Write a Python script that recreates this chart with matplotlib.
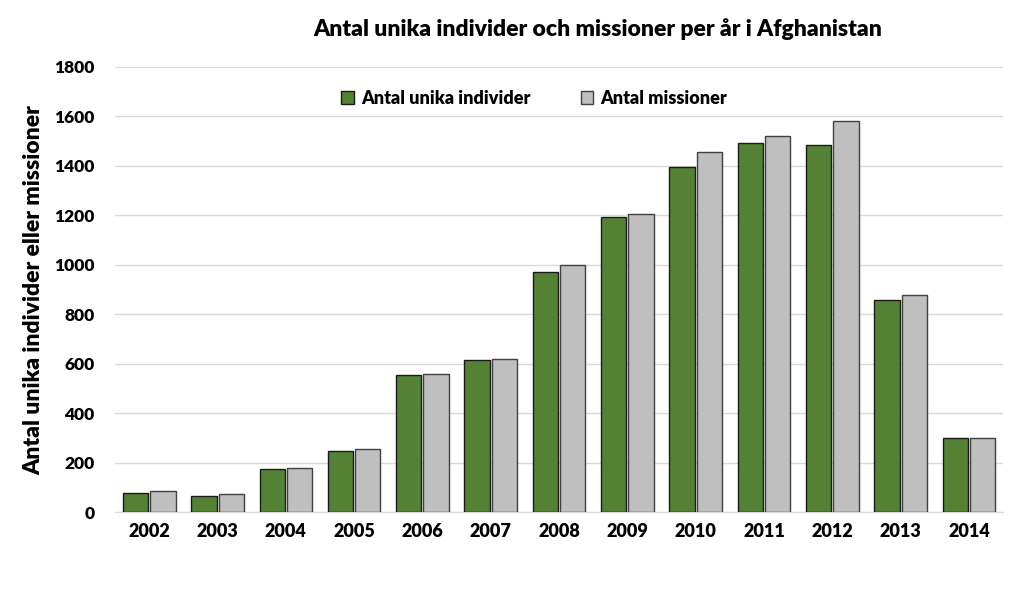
import matplotlib
matplotlib.use('Agg')
import matplotlib.pyplot as plt
import numpy as np

plt.rcParams['font.family'] = ['Lato', 'DejaVu Sans']

# data
years = ['2002', '2003', '2004', '2005', '2006', '2007', '2008',
         '2009', '2010', '2011', '2012', '2013', '2014']
individer = [77, 65, 174, 246, 553, 614, 970, 1192, 1394, 1491, 1483, 857, 299]
missioner = [85, 72, 178, 255, 558, 618, 998, 1204, 1455, 1519, 1580, 877, 299]

fig = plt.figure(figsize=(10.23, 6.09), dpi=100)
ax = fig.add_axes([0.1125, 0.159, 0.868, 0.731])

x = np.arange(len(years))
w = 0.37
ax.bar(x - 0.2, individer, w, color='#548235', edgecolor='#1a1a1a', linewidth=1,
       label='Antal unika individer', zorder=3)
ax.bar(x + 0.2, missioner, w, color='#bfbfbf', edgecolor='#404040', linewidth=1,
       label='Antal missioner', zorder=3)

ax.set_xlim(-0.5, len(years) - 0.5)
ax.set_ylim(0, 1800)
ax.set_yticks(range(0, 1801, 200))
ax.set_xticks(x)
ax.set_xticklabels(years)
ax.grid(axis='y', color='#d9d9d9', linewidth=1, zorder=0)
for s in ['top', 'right', 'left']:
    ax.spines[s].set_visible(False)
ax.spines['bottom'].set_color('#d9d9d9')
ax.tick_params(axis='x', length=0, labelsize=13, pad=8)
ax.tick_params(axis='y', length=0, labelsize=12.5, pad=15)
for lab in ax.get_xticklabels() + ax.get_yticklabels():
    lab.set_fontweight('heavy')

ax.set_ylabel('Antal unika individer eller missioner', fontsize=16.5, fontweight='heavy', labelpad=7)
fig.suptitle('Antal unika individer och missioner per år i Afghanistan', fontsize=16.5,
             fontweight='heavy', x=0.584, y=0.97)

leg = ax.legend(loc='upper center', bbox_to_anchor=(0.472, 0.985), ncol=2, frameon=False,
                prop={'weight': 'heavy', 'size': 13}, handlelength=0.7, handleheight=0.7,
                columnspacing=2.8, handletextpad=0.4)

fig.savefig('out.png', dpi=100)
